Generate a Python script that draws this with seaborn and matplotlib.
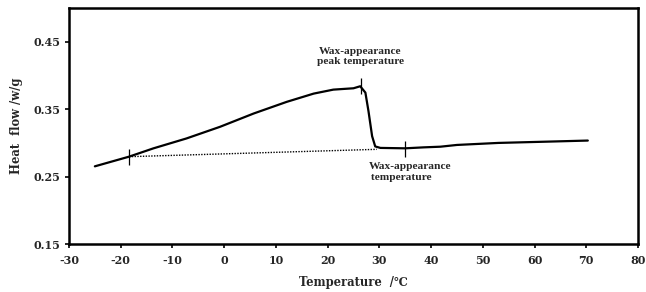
import matplotlib
matplotlib.use("Agg")
import matplotlib.pyplot as plt
import seaborn as sns
import pandas as pd

# ---- data ----
temperature = [-25.0, -18.4, -13.7, -7.3, -0.8, 5.7, 12.1, 17.3, 21.1, 25.0,
               26.3, 27.3, 27.9, 28.6, 29.2, 30.2, 35.0, 38.5, 41.8, 45.0,
               53.0, 63.0, 70.3]
heat_flow = [0.2653, 0.2796, 0.2919, 0.3066, 0.3239, 0.3436, 0.3609, 0.3731,
             0.379, 0.381, 0.384, 0.3746, 0.347, 0.310, 0.2948, 0.2926,
             0.292, 0.2934, 0.2944, 0.297, 0.300, 0.302, 0.3035]

baseline_x = [-18.4, 29.5]
baseline_y = [0.2796, 0.2905]

marker_x = [-18.4, 26.5, 35.0]
marker_y = [0.2796, 0.384, 0.2915]

x_ticks = [-30, -20, -10, 0, 10, 20, 30, 40, 50, 60, 70, 80]
y_ticks = [0.15, 0.25, 0.35, 0.45]

peak_label = "Wax-appearance\npeak temperature"
wat_label = "Wax-appearance\n temperature"

sns.set_style("ticks")
plt.rcParams['font.family'] = ['Liberation Serif', 'DejaVu Serif', 'DejaVu Sans']
plt.rcParams['font.weight'] = 'bold'
axis_font = ['DejaVu Serif', 'DejaVu Sans']

fig = plt.figure(figsize=(6.46, 2.92), dpi=100)
ax = fig.add_axes([0.1068, 0.164, 0.8808, 0.8086])

df = pd.DataFrame({"T": temperature, "H": heat_flow})
sns.lineplot(data=df, x="T", y="H", ax=ax, color="black", linewidth=1.6)
sns.lineplot(x=baseline_x, y=baseline_y, ax=ax, color="black", linewidth=1.0,
             linestyle=(0, (1, 1)))
ax.vlines(marker_x, [y - 0.012 for y in marker_y], [y + 0.012 for y in marker_y],
          color="black", linewidth=0.9)

ax.text(26.3, 0.428, peak_label, ha="center", va="center", fontsize=8.2,
        fontweight="bold", linespacing=1.2)
ax.text(27.9, 0.257, wat_label, ha="left", va="center", fontsize=8.2,
        fontweight="bold", linespacing=1.2)

ax.set_xlim(-30, 80)
ax.set_ylim(0.15, 0.5)
ax.set_xticks(x_ticks)
ax.set_yticks(y_ticks)
ax.set_xticklabels([str(t) for t in x_ticks], fontsize=8.0, fontweight="bold",
                   family=axis_font)
ax.set_yticklabels([f"{t:.2f}" for t in y_ticks], fontsize=8.0, fontweight="bold",
                   family=axis_font)
ax.tick_params(axis="both", direction="out", length=3, width=1.2, color="black")
ax.tick_params(axis="x", pad=5)
ax.tick_params(axis="y", pad=3)
for s in ax.spines.values():
    s.set_visible(True)
    s.set_linewidth(1.8)
    s.set_color("black")

ax.set_xlabel("Temperature  /\u2103", fontsize=8.3, fontweight="bold", labelpad=7,
              family=axis_font)
ax.set_ylabel("Heat  flow /w/g", fontsize=8.3, fontweight="bold", labelpad=8,
              family=axis_font)

fig.savefig("out.png", dpi=100)
